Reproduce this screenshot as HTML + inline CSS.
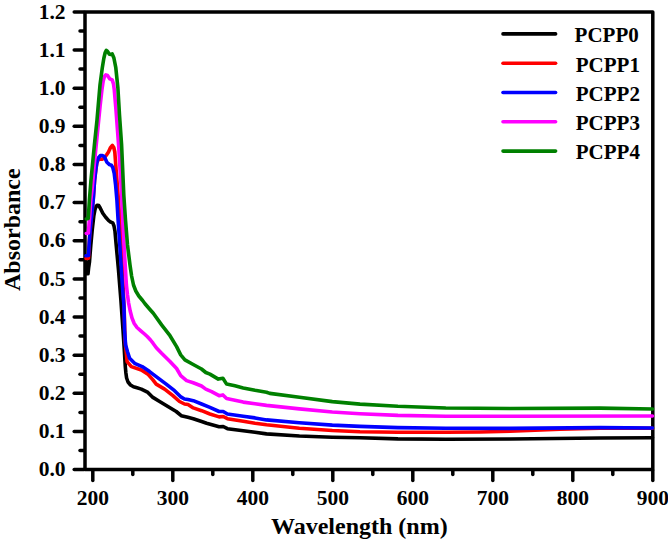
<!DOCTYPE html>
<html><head><meta charset="utf-8"><style>
html,body{margin:0;padding:0;background:#fff;width:668px;height:541px;overflow:hidden}
svg{display:block}
text{font-family:"Liberation Serif",serif;font-weight:bold}
</style></head><body>
<svg width="668" height="541" viewBox="0 0 668 541">
<rect width="668" height="541" fill="#fff"/>
<g stroke="#000" stroke-width="3.5" stroke-linecap="round" fill="none">
<line x1="74.2" y1="469.60" x2="84.0" y2="469.60"/>
<line x1="80.0" y1="450.53" x2="84.0" y2="450.53"/>
<line x1="74.2" y1="431.46" x2="84.0" y2="431.46"/>
<line x1="80.0" y1="412.39" x2="84.0" y2="412.39"/>
<line x1="74.2" y1="393.32" x2="84.0" y2="393.32"/>
<line x1="80.0" y1="374.25" x2="84.0" y2="374.25"/>
<line x1="74.2" y1="355.18" x2="84.0" y2="355.18"/>
<line x1="80.0" y1="336.10" x2="84.0" y2="336.10"/>
<line x1="74.2" y1="317.03" x2="84.0" y2="317.03"/>
<line x1="80.0" y1="297.96" x2="84.0" y2="297.96"/>
<line x1="74.2" y1="278.89" x2="84.0" y2="278.89"/>
<line x1="80.0" y1="259.82" x2="84.0" y2="259.82"/>
<line x1="74.2" y1="240.75" x2="84.0" y2="240.75"/>
<line x1="80.0" y1="221.68" x2="84.0" y2="221.68"/>
<line x1="74.2" y1="202.61" x2="84.0" y2="202.61"/>
<line x1="80.0" y1="183.54" x2="84.0" y2="183.54"/>
<line x1="74.2" y1="164.47" x2="84.0" y2="164.47"/>
<line x1="80.0" y1="145.40" x2="84.0" y2="145.40"/>
<line x1="74.2" y1="126.32" x2="84.0" y2="126.32"/>
<line x1="80.0" y1="107.25" x2="84.0" y2="107.25"/>
<line x1="74.2" y1="88.18" x2="84.0" y2="88.18"/>
<line x1="80.0" y1="69.11" x2="84.0" y2="69.11"/>
<line x1="74.2" y1="50.04" x2="84.0" y2="50.04"/>
<line x1="80.0" y1="30.97" x2="84.0" y2="30.97"/>
<line x1="74.2" y1="11.90" x2="84.0" y2="11.90"/>
<line x1="92.80" y1="470.6" x2="92.80" y2="480.4"/>
<line x1="132.80" y1="470.6" x2="132.80" y2="474.6"/>
<line x1="172.80" y1="470.6" x2="172.80" y2="480.4"/>
<line x1="212.80" y1="470.6" x2="212.80" y2="474.6"/>
<line x1="252.80" y1="470.6" x2="252.80" y2="480.4"/>
<line x1="292.80" y1="470.6" x2="292.80" y2="474.6"/>
<line x1="332.80" y1="470.6" x2="332.80" y2="480.4"/>
<line x1="372.80" y1="470.6" x2="372.80" y2="474.6"/>
<line x1="412.80" y1="470.6" x2="412.80" y2="480.4"/>
<line x1="452.80" y1="470.6" x2="452.80" y2="474.6"/>
<line x1="492.80" y1="470.6" x2="492.80" y2="480.4"/>
<line x1="532.80" y1="470.6" x2="532.80" y2="474.6"/>
<line x1="572.80" y1="470.6" x2="572.80" y2="480.4"/>
<line x1="612.80" y1="470.6" x2="612.80" y2="474.6"/>
<line x1="652.80" y1="470.6" x2="652.80" y2="480.4"/>
<rect x="85.0" y="11.9" width="567.8" height="457.7" stroke-linecap="butt" stroke-linejoin="round"/>
</g>
<g fill="none" stroke-width="3.6" stroke-linejoin="round" stroke-linecap="round">
<polyline points="86.0,261.0 86.1,273.8 88.0,273.8 88.6,268.0 89.5,261.7 90.8,245.0 92.2,230.0 93.8,216.0 95.0,209.5 96.1,206.3 97.3,205.2 98.8,205.6 100.2,208.0 102.8,213.3 105.7,217.2 108.7,220.6 110.9,222.2 112.8,223.0 114.0,226.0 115.0,231.5 116.2,245.0 118.5,270.0 120.9,300.0 123.0,330.0 124.3,350.0 125.3,366.6 125.9,373.0 126.6,378.0 128.0,382.0 130.5,385.0 133.5,386.8 137.0,387.8 141.3,389.1 147.9,392.4 152.9,397.4 159.6,401.5 167.9,406.5 176.2,411.5 181.2,415.7 187.8,417.3 193.3,418.7 201.6,421.5 206.6,423.2 219.1,426.8 223.2,426.5 227.4,428.7 243.2,430.7 255.0,432.3 266.5,433.9 299.4,436.0 332.3,437.2 360.0,437.8 397.9,438.9 445.8,439.2 510.0,439.0 600.0,438.0 652.5,437.8" stroke="#000000"/>
<polyline points="86.0,258.4 88.5,258.2 88.9,250.0 89.4,240.0 90.6,225.0 92.0,212.0 93.2,200.0 94.6,180.0 95.8,170.0 96.8,163.0 98.3,159.3 100.3,159.0 102.5,159.2 104.3,157.8 106.5,155.0 108.5,152.0 110.3,148.0 112.4,145.4 113.8,147.5 114.8,152.0 115.4,160.0 116.2,171.0 117.3,185.0 118.5,200.0 120.5,230.0 121.6,255.0 122.8,280.0 124.2,310.0 125.0,340.0 126.5,355.0 127.1,361.6 131.3,366.6 141.3,370.0 147.9,374.1 152.9,379.9 156.2,384.1 164.6,389.1 172.9,395.7 179.5,401.5 184.5,404.0 188.0,404.5 193.3,407.9 201.6,410.7 209.9,414.0 219.1,416.9 223.2,416.5 227.4,418.7 243.2,421.2 255.0,423.2 266.5,424.8 299.4,428.2 332.3,430.5 360.0,431.8 397.9,432.2 445.8,432.3 480.0,432.0 510.0,431.2 560.0,429.3 600.0,428.1 652.5,428.3" stroke="#ff0000"/>
<polyline points="86.0,255.8 88.5,255.5 88.9,248.0 89.4,240.0 90.6,225.0 92.0,212.0 93.2,200.0 94.6,180.0 95.8,170.0 96.8,163.0 98.3,158.0 100.3,155.6 102.5,155.6 104.3,156.5 106.9,162.2 109.5,164.6 111.4,165.3 112.8,167.5 114.2,173.4 115.6,185.0 116.9,200.0 118.1,220.0 120.1,250.0 121.4,270.0 122.7,290.0 123.9,305.0 124.6,330.0 125.6,345.0 127.6,352.0 129.6,358.3 134.6,363.3 142.1,366.6 149.6,371.6 156.2,376.6 166.2,384.1 174.5,390.7 180.4,396.6 184.5,399.0 188.0,399.6 193.3,400.7 201.6,404.0 209.9,407.4 219.1,411.5 223.2,411.5 227.4,414.0 243.2,416.2 255.0,417.9 266.5,419.9 299.4,422.8 332.3,425.1 360.0,426.4 397.9,427.6 445.8,428.3 510.0,428.4 600.0,427.6 652.5,428.0" stroke="#0000ff"/>
<polyline points="86.3,233.4 88.4,233.0 89.0,225.0 89.6,218.0 90.8,200.0 91.4,195.0 92.5,185.0 94.2,165.0 96.2,145.0 98.2,125.0 100.2,105.0 101.9,90.0 103.2,81.0 104.5,76.5 105.8,74.9 107.5,75.5 109.7,78.8 112.2,79.9 113.5,84.0 114.3,90.0 116.0,110.0 118.6,145.0 120.4,175.0 121.6,195.0 123.0,225.0 124.3,250.0 126.4,285.0 127.5,295.0 128.6,303.0 130.2,311.0 132.0,318.0 134.2,323.5 137.0,327.5 140.8,330.8 144.5,334.0 147.5,336.8 150.5,340.0 153.0,343.2 156.3,347.7 161.6,353.2 170.0,361.5 176.6,368.5 180.7,375.7 186.6,380.6 193.2,382.8 201.5,386.0 205.8,389.1 211.6,391.6 219.1,395.7 222.9,394.9 226.6,398.6 234.9,400.2 243.2,402.1 255.0,403.7 266.5,405.4 299.4,408.9 332.3,412.0 360.0,413.7 397.9,415.4 445.8,416.2 510.0,416.3 652.5,416.0" stroke="#ff00ff"/>
<polyline points="86.3,219.0 88.2,218.6 88.8,210.0 89.4,200.0 91.0,180.0 94.4,145.0 97.0,120.0 100.0,85.0 102.3,67.7 103.8,58.5 105.2,52.5 106.3,50.4 107.4,51.2 109.4,54.2 110.8,54.4 112.2,53.9 113.9,58.0 115.8,67.7 117.9,88.0 119.5,115.0 121.6,145.0 123.8,195.0 125.5,220.0 127.5,245.0 130.0,265.0 131.6,276.0 133.5,285.0 135.8,291.0 138.8,296.0 142.6,300.5 145.0,303.8 149.5,309.0 153.3,313.3 161.6,324.9 170.0,335.7 176.6,346.6 180.7,354.9 184.9,359.9 193.2,364.5 201.5,369.0 205.8,372.5 209.9,374.1 218.3,379.1 222.9,378.3 226.6,384.1 234.9,385.8 243.2,387.9 255.0,390.3 266.5,392.2 269.8,393.4 299.4,397.2 332.3,401.6 360.0,404.1 397.9,406.3 445.8,408.0 510.0,408.5 600.0,408.1 652.5,409.0" stroke="#008000"/>
</g>
<g font-size="21.5" fill="#000">
<text x="65.5" y="476.30" text-anchor="end">0.0</text>
<text x="65.5" y="438.16" text-anchor="end">0.1</text>
<text x="65.5" y="400.02" text-anchor="end">0.2</text>
<text x="65.5" y="361.88" text-anchor="end">0.3</text>
<text x="65.5" y="323.73" text-anchor="end">0.4</text>
<text x="65.5" y="285.59" text-anchor="end">0.5</text>
<text x="65.5" y="247.45" text-anchor="end">0.6</text>
<text x="65.5" y="209.31" text-anchor="end">0.7</text>
<text x="65.5" y="171.17" text-anchor="end">0.8</text>
<text x="65.5" y="133.02" text-anchor="end">0.9</text>
<text x="65.5" y="94.88" text-anchor="end">1.0</text>
<text x="65.5" y="56.74" text-anchor="end">1.1</text>
<text x="65.5" y="18.60" text-anchor="end">1.2</text>
<text x="92.80" y="505.3" text-anchor="middle">200</text>
<text x="172.80" y="505.3" text-anchor="middle">300</text>
<text x="252.80" y="505.3" text-anchor="middle">400</text>
<text x="332.80" y="505.3" text-anchor="middle">500</text>
<text x="412.80" y="505.3" text-anchor="middle">600</text>
<text x="492.80" y="505.3" text-anchor="middle">700</text>
<text x="572.80" y="505.3" text-anchor="middle">800</text>
<text x="652.80" y="505.3" text-anchor="middle">900</text>
</g>
<g fill="none" stroke-width="3.6" stroke-linecap="round" font-size="21.5">
<line x1="503" y1="33.9" x2="555.6" y2="33.9" stroke="#000000"/>
<text x="574.6" y="42.2" stroke="none" fill="#000" font-size="21">PCPP0</text>
<line x1="503" y1="63.2" x2="555.6" y2="63.2" stroke="#ff0000"/>
<text x="575.8" y="71.5" stroke="none" fill="#000" font-size="21">PCPP1</text>
<line x1="503" y1="92.5" x2="555.6" y2="92.5" stroke="#0000ff"/>
<text x="575.8" y="100.8" stroke="none" fill="#000" font-size="21">PCPP2</text>
<line x1="503" y1="121.8" x2="555.6" y2="121.8" stroke="#ff00ff"/>
<text x="575.8" y="130.1" stroke="none" fill="#000" font-size="21">PCPP3</text>
<line x1="503" y1="151.1" x2="555.6" y2="151.1" stroke="#008000"/>
<text x="575.8" y="159.4" stroke="none" fill="#000" font-size="21">PCPP4</text>
</g>
<text x="271" y="534" font-size="24" fill="#000">Wavelength (nm)</text>
<text transform="translate(20,291) rotate(-90)" x="0" y="0" font-size="24" fill="#000">Absorbance</text>
</svg>
</body></html>
